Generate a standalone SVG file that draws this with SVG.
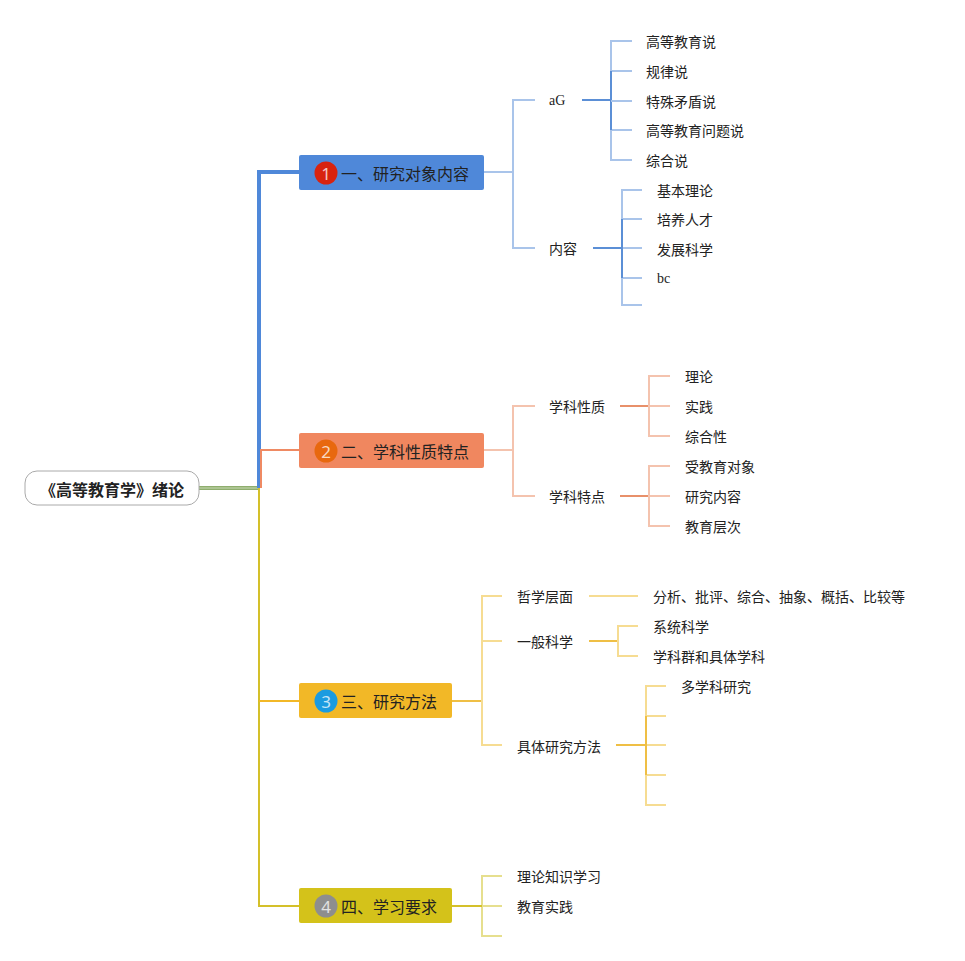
<svg xmlns="http://www.w3.org/2000/svg" width="965" height="961" viewBox="0 0 965 961">
<style>
text{font-family:"Noto Sans CJK SC","Noto Sans",sans-serif;dominant-baseline:central;fill:#222}
.t{font-size:14px}
.m{font-size:16px}
.s{font-family:"Liberation Serif","Noto Sans CJK SC",serif;font-size:14px}
.n{font-family:"Noto Sans",sans-serif;font-size:17px;fill:#fff;fill-opacity:.75;text-anchor:middle}
.c line,.c path{fill:none}
.b1{stroke:#a9c4ea;stroke-width:2}
.b2{stroke:#5b8fd6;stroke-width:2}
.o1{stroke:#f4c3ae;stroke-width:2}
.o2{stroke:#e8906a;stroke-width:2}
.y1{stroke:#f6dc92;stroke-width:2}
.y2{stroke:#efbf45;stroke-width:2}
.g1{stroke:#e6df8e;stroke-width:2}
</style>
<g id="connectors" class="c">
<path d="M199 488 H259" stroke="#8fae6e" stroke-width="4"/>
<path d="M199 488 H259" stroke="#c9dbb5" stroke-width="1"/>
<path d="M259 488 V172 H299" stroke="#4f88d9" stroke-width="4"/>
<path d="M261 488 V450 H299" stroke="#ef8a63" stroke-width="2"/>
<path d="M259 488 V906 H299" stroke="#d4c02a" stroke-width="2"/>
<path d="M259 701 H299" stroke="#f2b827" stroke-width="2"/>
<path class="b1" d="M484 172 H513 M535 100 H513 V248 H535"/>
<path class="b2" d="M582 100 H611 M593 248 H622"/>
<path class="b1" d="M632 41 H611 V160 H632 M611 71 H632 M611 130 H632"/>
<path class="b2" d="M611 71 V130"/>
<path class="b1" d="M611 101 H632"/>
<path class="b1" d="M642 190 H622 V305 H642 M622 219 H642 M622 248 H642 M622 278 H642"/>
<path class="b2" d="M622 219 V278"/>
<path class="o1" d="M484 450 H513 M535 406 H513 V496 H535"/>
<path class="o2" d="M620 406 H649 M620 496 H649"/>
<path class="o1" d="M670 376 H649 V436 H670 M649 406 H670 M670 466 H649 V526 H670 M649 496 H670"/>
<path class="y2" d="M452 701 H482"/>
<path class="y1" d="M502 596 H482 V745 H502 M482 641 H502 M589 596 H638"/>
<path class="y2" d="M589 641 H618 M616 745 H646"/>
<path class="y1" d="M638 626 H618 V656 H638 M666 686 H646 V805 H666 M646 716 H666 M646 745 H666 M646 775 H666"/>
<path class="y2" d="M646 716 V775"/>
<path class="g1" d="M452 906 H482 M502 876 H482 V936 H502 M482 906 H502"/>
<path d="M452 906 H482" stroke="#d4c02a" stroke-width="2"/>
</g>
<g id="root">
<rect x="25" y="471" width="174" height="34" rx="12" fill="#fff" stroke="#aaa" stroke-width="1"/>
<text x="112" y="489" class="m" font-weight="bold" text-anchor="middle">《高等教育学》绪论</text>
</g>
<g id="n1">
<rect x="299" y="155" width="185" height="35" rx="2" fill="#4f88d9"/>
<circle cx="326" cy="173" r="11.5" fill="#d8230f"/>
<text x="326" y="173" class="n">1</text>
<text x="341" y="173" class="m">一、研究对象内容</text>
</g>
<g id="n2">
<rect x="299" y="433" width="185" height="35" rx="2" fill="#f0875f"/>
<circle cx="326" cy="451" r="11.5" fill="#e8680e"/>
<text x="326" y="451" class="n">2</text>
<text x="341" y="451" class="m">二、学科性质特点</text>
</g>
<g id="n3">
<rect x="299" y="683" width="153" height="35" rx="2" fill="#f2b827"/>
<circle cx="326" cy="701" r="11.5" fill="#1b9be0"/>
<text x="326" y="701" class="n">3</text>
<text x="341" y="701" class="m">三、研究方法</text>
</g>
<g id="n4">
<rect x="299" y="888" width="153" height="35" rx="2" fill="#d4c21a"/>
<circle cx="326" cy="906" r="11.5" fill="#8e8e8e"/>
<text x="326" y="906" class="n">4</text>
<text x="341" y="906" class="m">四、学习要求</text>
</g>
<g id="n1-1"><text x="549" y="100" class="s">aG</text></g>
<g id="n1-1-1"><text x="646" y="41" class="t">高等教育说</text></g>
<g id="n1-1-2"><text x="646" y="71" class="t">规律说</text></g>
<g id="n1-1-3"><text x="646" y="101" class="t">特殊矛盾说</text></g>
<g id="n1-1-4"><text x="646" y="130" class="t">高等教育问题说</text></g>
<g id="n1-1-5"><text x="646" y="160" class="t">综合说</text></g>
<g id="n1-2"><text x="549" y="248" class="t">内容</text></g>
<g id="n1-2-1"><text x="657" y="190" class="t">基本理论</text></g>
<g id="n1-2-2"><text x="657" y="219" class="t">培养人才</text></g>
<g id="n1-2-3"><text x="657" y="249" class="t">发展科学</text></g>
<g id="n1-2-4"><text x="657" y="278" class="s">bc</text></g>
<g id="n2-1"><text x="549" y="406" class="t">学科性质</text></g>
<g id="n2-1-1"><text x="685" y="376" class="t">理论</text></g>
<g id="n2-1-2"><text x="685" y="406" class="t">实践</text></g>
<g id="n2-1-3"><text x="685" y="436" class="t">综合性</text></g>
<g id="n2-2"><text x="549" y="496" class="t">学科特点</text></g>
<g id="n2-2-1"><text x="685" y="466" class="t">受教育对象</text></g>
<g id="n2-2-2"><text x="685" y="496" class="t">研究内容</text></g>
<g id="n2-2-3"><text x="685" y="526" class="t">教育层次</text></g>
<g id="n3-1"><text x="517" y="596" class="t">哲学层面</text></g>
<g id="n3-1-1"><text x="653" y="596" class="t">分析、批评、综合、抽象、概括、比较等</text></g>
<g id="n3-2"><text x="517" y="641" class="t">一般科学</text></g>
<g id="n3-2-1"><text x="653" y="626" class="t">系统科学</text></g>
<g id="n3-2-2"><text x="653" y="656" class="t">学科群和具体学科</text></g>
<g id="n3-3"><text x="517" y="746" class="t">具体研究方法</text></g>
<g id="n3-3-1"><text x="681" y="686" class="t">多学科研究</text></g>
<g id="n4-1"><text x="517" y="876" class="t">理论知识学习</text></g>
<g id="n4-2"><text x="517" y="906" class="t">教育实践</text></g>
</svg>
